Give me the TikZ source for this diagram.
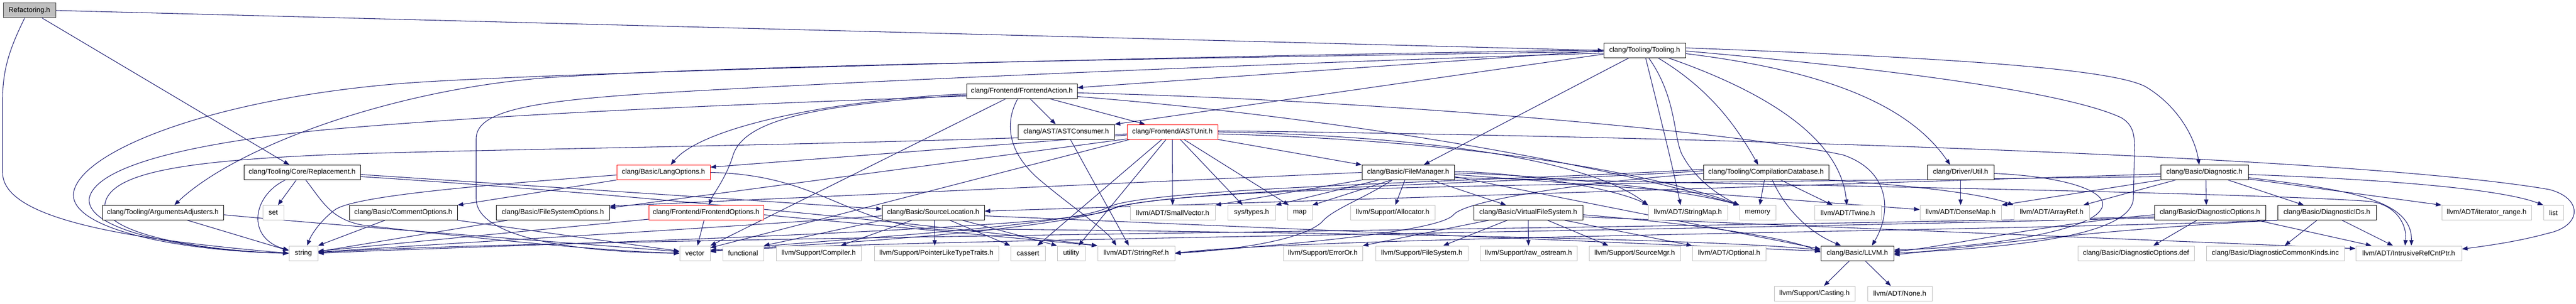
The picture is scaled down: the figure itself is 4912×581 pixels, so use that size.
\documentclass[tikz,border=0pt]{standalone}
\usepackage{fontspec}
\setmainfont{Liberation Sans}
\usetikzlibrary{arrows.meta,calc}
\definecolor{edgecol}{HTML}{191970}
\definecolor{extgray}{HTML}{BFBFBF}
\definecolor{rootfill}{HTML}{BFBFBF}
\definecolor{rootdraw}{HTML}{404040}
\definecolor{truncred}{HTML}{FF0000}
\pgfdeclarelayer{bg}
\pgfsetlayers{bg,main}
\newcommand{\gnode}[6]{\node[#2, minimum width={(#4-#3)*0.75pt}] (#1) at ({(#3+#4)/2},#5) {#6};}
\begin{document}
\begin{tikzpicture}[x=0.75pt,y=-0.75pt,
 box/.style={rectangle, inner sep=0pt, minimum height=21pt, font=\fontsize{10}{12}\selectfont, line width=0.75pt, fill=white},
 root/.style={box, fill=rootfill, draw=rootdraw},
 doc/.style={box, draw=black},
 ext/.style={box, draw=extgray},
 trunc/.style={box, draw=truncred},
 dep/.style={draw=edgecol, line width=0.8pt, -{Triangle[length=8pt,width=6pt]}}]
\useasboundingbox (0,0) rectangle (4912,581);
% rows: 20, 96.5, 174.5, 252, 329.5, 406.5, 484, 561
\gnode{ref}{root}{6}{106}{20}{Refactoring.h}
\gnode{tool}{doc}{3058}{3214}{96.5}{clang/Tooling/Tooling.h}
\gnode{fa}{doc}{1843}{2054}{174.5}{clang/Frontend/FrontendAction.h}
\gnode{astc}{doc}{1941}{2125}{252}{clang/AST/ASTConsumer.h}
\gnode{astu}{trunc}{2149}{2322}{252}{clang/Frontend/ASTUnit.h}
\gnode{repl}{doc}{465}{687}{329.5}{clang/Tooling/Core/Replacement.h}
\gnode{lang}{trunc}{1176}{1354}{329.5}{clang/Basic/LangOptions.h}
\gnode{fm}{doc}{2597}{2773}{329.5}{clang/Basic/FileManager.h}
\gnode{cdb}{doc}{3248}{3487}{329.5}{clang/Tooling/CompilationDatabase.h}
\gnode{util}{doc}{3675}{3802}{329.5}{clang/Driver/Util.h}
\gnode{diag}{doc}{4120}{4287}{329.5}{clang/Basic/Diagnostic.h}
\gnode{args}{doc}{195}{426}{406.5}{clang/Tooling/ArgumentsAdjusters.h}
\gnode{set}{ext}{501}{541}{406.5}{set}
\gnode{copt}{doc}{666}{872}{406.5}{clang/Basic/CommentOptions.h}
\gnode{fso}{doc}{946}{1162}{406.5}{clang/Basic/FileSystemOptions.h}
\gnode{fopt}{trunc}{1237}{1456}{406.5}{clang/Frontend/FrontendOptions.h}
\gnode{sloc}{doc}{1682}{1877}{406.5}{clang/Basic/SourceLocation.h}
\gnode{svec}{ext}{2155}{2317}{406.5}{llvm/ADT/SmallVector.h}
\gnode{syst}{ext}{2341}{2432}{406.5}{sys/types.h}
\gnode{map}{ext}{2455}{2502}{406.5}{map}
\gnode{alloc}{ext}{2575}{2736}{406.5}{llvm/Support/Allocator.h}
\gnode{vfs}{doc}{2810}{3018}{406.5}{clang/Basic/VirtualFileSystem.h}
\gnode{smap}{ext}{3143}{3294}{406.5}{llvm/ADT/StringMap.h}
\gnode{mem}{ext}{3317}{3386}{406.5}{memory}
\gnode{twine}{ext}{3460}{3587}{406.5}{llvm/ADT/Twine.h}
\gnode{dmap}{ext}{3661}{3816}{406.5}{llvm/ADT/DenseMap.h}
\gnode{aref}{ext}{3840}{3984}{406.5}{llvm/ADT/ArrayRef.h}
\gnode{dopt}{doc}{4108}{4320}{406.5}{clang/Basic/DiagnosticOptions.h}
\gnode{dids}{doc}{4343}{4531}{406.5}{clang/Basic/DiagnosticIDs.h}
\gnode{itr}{ext}{4656}{4827}{406.5}{llvm/ADT/iterator\_{}range.h}
\gnode{list}{ext}{4850}{4888}{406.5}{list}
\gnode{str}{ext}{551}{606}{484}{string}
\gnode{vec}{ext}{1296}{1354}{484}{vector}
\gnode{func}{ext}{1378}{1456}{484}{functional}
\gnode{comp}{ext}{1480}{1642}{484}{llvm/Support/Compiler.h}
\gnode{plt}{ext}{1667}{1904}{484}{llvm/Support/PointerLikeTypeTraits.h}
\gnode{cas}{ext}{1927}{1993}{484}{cassert}
\gnode{utl}{ext}{2016}{2069}{484}{utility}
\gnode{sref}{ext}{2093}{2240}{484}{llvm/ADT/StringRef.h}
\gnode{eor}{ext}{2447}{2598}{484}{llvm/Support/ErrorOr.h}
\gnode{fsys}{ext}{2623}{2799}{484}{llvm/Support/FileSystem.h}
\gnode{raw}{ext}{2822}{3007}{484}{llvm/Support/raw\_{}ostream.h}
\gnode{smgr}{ext}{3030}{3204}{484}{llvm/Support/SourceMgr.h}
\gnode{opt}{ext}{3227}{3367}{484}{llvm/ADT/Optional.h}
\gnode{llvm}{doc}{3472}{3611}{484}{clang/Basic/LLVM.h}
\gnode{ddef}{ext}{3962}{4184}{484}{clang/Basic/DiagnosticOptions.def}
\gnode{dck}{ext}{4207}{4470}{484}{clang/Basic/DiagnosticCommonKinds.inc}
\gnode{irc}{ext}{4492}{4694}{484}{llvm/ADT/IntrusiveRefCntPtr.h}
\gnode{cast}{ext}{3383}{3537}{561}{llvm/Support/Casting.h}
\gnode{none}{ext}{3561}{3684}{561}{llvm/ADT/None.h}
\begin{pgfonlayer}{bg}
\fill[white] (0,0) rectangle (4912,581);
% Refactoring.h
\draw[dep] (ref.east) -- (tool.west);
\draw[dep] (ref) -- (repl);
\draw[dep] ($(ref.south)+(-9,0)$) .. controls (20,90) and (5,130) .. (5,190) -- (5,330) .. controls (5,420) and (250,458) .. (str.west);
% Tooling.h
\draw[dep] (tool.west) -- ($(fa.east)+(0,-7)$);
\draw[dep] ($(tool.west)+(0,7)$) -- (astc.north east);
\draw[dep] ($(tool.west)+(0,2)$) .. controls (2200,112) and (1400,125) .. (1050,148) .. controls (750,170) and (450,280) .. ($(args.north)+(22,0)$);
\draw[dep] ($(tool.west)+(0,-1)$) .. controls (2200,108) and (1000,140) .. (760,160) .. controls (400,190) and (150,290) .. (140,370) .. controls (135,440) and (350,480) .. (str.west);
\draw[dep] ($(tool.west)+(0,5)$) .. controls (2300,125) and (1500,162) .. (1220,180) .. controls (1000,195) and (908,215) .. (908,265) -- (908,380) .. controls (908,455) and (1100,482) .. (vec.west);
\draw[dep] ($(tool.south west)+(48,0)$) -- ($(fm.north)+(30,0)$);
\draw[dep] ($(tool.south)+(2,0)$) .. controls (3165,220) and (3190,320) .. ($(smap.north)+(-14,0)$);
\draw[dep] ($(tool.south)+(8,0)$) .. controls (3200,190) and (3190,270) .. (3210,300) .. controls (3235,345) and (3280,375) .. (mem.north west);
\draw[dep] ($(tool.south)+(26,0)$) .. controls (3260,170) and (3310,240) .. ($(cdb.north)+(-15,0)$);
\draw[dep] ($(tool.south)+(46,0)$) .. controls (3380,180) and (3510,270) .. ($(twine.north)+(-2,0)$);
\draw[dep] ($(tool.east)+(0,6)$) .. controls (3480,135) and (3640,200) .. ($(util.north)+(-20,0)$);
\draw[dep] ($(tool.east)+(0,-5)$) .. controls (3700,110) and (4020,130) .. (4090,165) .. controls (4150,200) and (4185,260) .. ($(diag.north)+(-10,0)$);
\draw[dep] ($(tool.east)+(0,1)$) .. controls (3700,140) and (3960,185) .. (4045,225) .. controls (4070,240) and (4070,262) .. (4070,285) -- (4068,380) .. controls (4062,450) and (3850,472) .. (llvm.east);
% FrontendAction.h
\draw[dep] ($(fa.south)+(16,0)$) -- ($(astc.north)+(-20,0)$);
\draw[dep] ($(fa.south)+(54,0)$) -- ($(astu.north)+(-52,0)$);
\draw[dep] ($(fa.south)+(-8,0)$) .. controls (1918,230) and (1915,290) .. (1990,350) .. controls (2050,400) and (2110,440) .. ($(sref.north)+(-38,0)$);
\draw[dep] ($(fa.south)+(-31,0)$) -- (vec.north east);
\draw[dep] ($(fa.west)+(0,5)$) .. controls (1600,190) and (1340,240) .. ($(lang.north)+(14,0)$);
\draw[dep] ($(fa.west)+(0,7)$) .. controls (1550,200) and (1420,230) .. (1398,296) .. controls (1385,340) and (1360,370) .. ($(fopt.north)+(5,0)$);
\draw[dep] ($(fa.west)+(0,9)$) .. controls (1400,200) and (1000,215) .. (620,248) .. controls (350,275) and (180,320) .. (170,380) .. controls (165,445) and (380,480) .. (str.west);
\draw[dep] ($(fa.east)+(0,3)$) .. controls (2600,190) and (3300,250) .. (3514,296) .. controls (3600,325) and (3610,400) .. ($(llvm.north)+(28,0)$);
\draw[dep] ($(fa.east)+(0,10)$) .. controls (2500,220) and (3000,300) .. (mem.north west);
% ASTConsumer.h
\draw[dep] ($(astc.south)+(8,0)$) -- ($(sref.north)+(-14,0)$);
% ASTUnit.h
\draw[dep] ($(astu.south)+(-20,0)$) -- ($(cas.north)+(18,0)$);
\draw[dep] ($(astu.south)+(-12,0)$) -- ($(utl.north)+(14,0)$);
\draw[dep] (astu.south) -- (svec.north);
\draw[dep] ($(astu.south)+(15,0)$) -- ($(syst.north)+(-17,0)$);
\draw[dep] ($(astu.south)+(22,0)$) -- ($(map.north)+(-21,0)$);
\draw[dep] (astu.south east) -- (fm.north west);
\draw[dep] ($(astu.south west)+(0,-1)$) -- ($(fso.east)+(0,-9)$);
\draw[dep] ($(astu.west)+(0,6)$) -- ($(lang.east)+(0,-10)$);
\draw[dep] ($(astu.west)+(0,4)$) .. controls (1600,278) and (900,285) .. (620,296) .. controls (350,308) and (210,330) .. (200,390) .. controls (195,450) and (400,480) .. (str.west);
\draw[dep] ($(astu.south west)+(6,0)$) -- ($(vec.north east)+(0,4)$);
\draw[dep] (astu.east) .. controls (2800,262) and (3050,320) .. (smap.north west);
\draw[dep] ($(astu.east)+(0,4)$) .. controls (2800,268) and (3150,330) .. (mem.north west);
\draw[dep] ($(astu.east)+(0,-2)$) .. controls (3300,262) and (4500,300) .. (4860,362) .. controls (4925,378) and (4925,432) .. (4858,446) .. controls (4800,462) and (4740,470) .. ($(irc.east)+(0,-8)$);
% Replacement.h
\draw[dep] ($(repl.south)+(-11,0)$) -- ($(set.north)+(9,0)$);
\draw[dep] ($(repl.south)+(-32,0)$) .. controls (480,375) and (470,455) .. ($(str.west)+(0,-6)$);
\draw[dep] ($(repl.south)+(7,0)$) .. controls (615,385) and (630,418) .. (690,430) .. controls (900,455) and (1150,480) .. (vec.west);
\draw[dep] ($(repl.east)+(0,4)$) -- ($(sloc.west)+(0,-7)$);
\draw[dep] ($(repl.east)+(0,8)$) .. controls (1200,370) and (1800,432) .. (sref.north west);
% ArgumentsAdjusters.h
\draw[dep] ($(args.south)+(47,0)$) -- ($(str.west)+(0,-5)$);
\draw[dep] ($(args.east)+(0,4)$) .. controls (700,436) and (1100,465) .. ($(vec.west)+(0,-3)$);
% LangOptions.h
\draw[dep] (lang.south west) -- (copt.north east);
\draw[dep] ($(lang.west)+(0,5)$) .. controls (900,355) and (680,375) .. (640,400) .. controls (615,418) and (595,445) .. ($(str.north)+(7,0)$);
\draw[dep] (lang.east) .. controls (1600,335) and (1620,460) .. (1900,438) .. controls (2800,448) and (3300,460) .. ($(llvm.west)+(0,-6)$);
% FrontendOptions.h
\draw[dep] ($(fopt.south)+(-4,0)$) -- ($(vec.north)+(5,0)$);
\draw[dep] ($(fopt.south west)+(0,-2)$) -- ($(str.east)+(0,-4)$);
\draw[dep] ($(fopt.east)+(0,4)$) -- (sref.north west);
% CommentOptions.h, FileSystemOptions.h
\draw[dep] ($(copt.south)+(-35,0)$) -- (str.north east);
\draw[dep] (copt.south east) -- ($(vec.west)+(0,-4)$);
\draw[dep] ($(fso.south west)+(22,0)$) -- ($(str.east)+(0,-3)$);
% SourceLocation.h
\draw[dep] ($(sloc.south)+(-41,0)$) -- ($(comp.north)+(42,0)$);
\draw[dep] ($(sloc.south)+(2,0)$) -- ($(plt.north)+(-3,0)$);
\draw[dep] ($(sloc.south)+(32,0)$) -- (cas.north west);
\draw[dep] ($(sloc.south)+(56,0)$) -- (utl.north west);
\draw[dep] (sloc.south west) -- (func.north east);
\draw[dep] ($(sloc.west)+(0,6)$) .. controls (1300,440) and (900,462) .. ($(str.east)+(0,-2)$);
\draw[dep] ($(sloc.east)+(0,6)$) -- ($(llvm.west)+(0,-4)$);
% FileManager.h
\draw[dep] ($(fm.south)+(-56,0)$) -- (syst.north east);
\draw[dep] ($(fm.south)+(-32,0)$) -- (map.north east);
\draw[dep] ($(fm.south)+(-6,0)$) -- ($(alloc.north)+(5,0)$);
\draw[dep] ($(fm.south)+(43,0)$) -- ($(vfs.north)+(-42,0)$);
\draw[dep] (fm.south west) -- (svec.north east);
\draw[dep] ($(fm.south)+(-30,0)$) .. controls (2600,380) and (2540,400) .. (2520,425) .. controls (2480,460) and (2350,478) .. (sref.east);
\draw[dep] (fm.west) -- ($(fso.north east)+(0,2)$);
\draw[dep] ($(fm.east)+(0,8)$) -- ($(llvm.west)+(0,-8)$);
\draw[dep] ($(fm.east)+(0,4)$) -- ($(dmap.west)+(0,-6)$);
\draw[dep] ($(fm.east)+(0,10)$) .. controls (3300,352) and (4300,368) .. (4520,385) .. controls (4570,392) and (4590,430) .. ($(irc.north)+(-7,0)$);
\draw[dep] ($(fm.east)+(0,-2)$) .. controls (2900,330) and (3080,360) .. (smap.north west);
\draw[dep] ($(fm.east)+(0,1)$) .. controls (2950,335) and (3200,360) .. (mem.north west);
% VirtualFileSystem.h
\draw[dep] ($(vfs.south west)+(29,0)$) -- (eor.north east);
\draw[dep] ($(vfs.south)+(-40,0)$) -- ($(fsys.north)+(41,0)$);
\draw[dep] (vfs.south) -- (raw.north);
\draw[dep] ($(vfs.south)+(37,0)$) -- ($(smgr.north)+(-50,0)$);
\draw[dep] ($(vfs.south east)+(-35,0)$) -- (opt.north west);
\draw[dep] ($(vfs.east)+(0,4)$) .. controls (3200,425) and (3400,450) .. ($(llvm.west)+(0,-2)$);
\draw[dep] ($(vfs.east)+(0,8)$) -- ($(irc.west)+(0,-9)$);
% DiagnosticOptions.h
\draw[dep] ($(dopt.south)+(-25,0)$) -- ($(ddef.north)+(33,0)$);
\draw[dep] ($(dopt.south)+(90,0)$) -- ($(irc.north)+(-71,0)$);
\draw[dep] ($(dopt.west)+(0,4)$) .. controls (3900,428) and (3720,470) .. ($(llvm.east)+(0,-3)$);
\draw[dep] ($(dopt.west)+(0,8)$) .. controls (3000,440) and (1000,455) .. ($(str.east)+(0,-1)$);
\draw[dep] ($(dopt.west)+(0,10)$) .. controls (3000,445) and (1700,458) .. ($(vec.east)+(0,-4)$);
% DiagnosticIDs.h
\draw[dep] ($(dids.south)+(-19,0)$) -- ($(dck.north)+(18,0)$);
\draw[dep] ($(dids.south)+(29,0)$) -- ($(irc.north)+(-30,0)$);
\draw[dep] (dids.south west) .. controls (4000,438) and (3760,472) .. ($(llvm.east)+(0,3)$);
\draw[dep] (dids.south west) .. controls (3800,442) and (2500,452) .. (sref.east);
% Diagnostic.h
\draw[dep] ($(diag.south)+(3,0)$) -- ($(dopt.north)+(-7,0)$);
\draw[dep] ($(diag.south)+(45,0)$) -- ($(dids.north)+(-44,0)$);
\draw[dep] ($(diag.south)+(-55,0)$) -- ($(aref.north east)+(-12,0)$);
\draw[dep] (diag.south west) -- (dmap.north east);
\draw[dep] ($(diag.south east)+(0,-2)$) -- (itr.north west);
\draw[dep] ($(diag.east)+(0,4)$) .. controls (4600,345) and (4780,365) .. (list.north west);
\draw[dep] ($(diag.east)+(0,10)$) .. controls (4470,362) and (4600,380) .. ($(irc.north)+(5,0)$);
\draw[dep] ($(diag.west)+(0,3)$) -- ($(sloc.east)+(0,-3)$);
\draw[dep] ($(diag.west)+(0,8)$) .. controls (3000,352) and (2300,355) .. (2130,395) .. controls (2060,430) and (1700,462) .. ($(vec.east)+(0,-6)$);
% CompilationDatabase.h
\draw[dep] ($(cdb.south)+(-3,0)$) -- ($(mem.north)+(4,0)$);
\draw[dep] ($(cdb.south)+(28,0)$) -- ($(twine.north)+(-29,0)$);
\draw[dep] ($(cdb.south)+(12,0)$) .. controls (3400,390) and (3440,440) .. ($(llvm.north)+(-31,0)$);
\draw[dep] (cdb.south east) .. controls (3650,355) and (3780,370) .. (aref.north west);
\draw[dep] ($(cdb.west)+(0,2)$) .. controls (3050,345) and (2800,380) .. (2772,410) .. controls (2745,445) and (2420,470) .. (sref.east);
\draw[dep] ($(cdb.west)+(0,-3)$) .. controls (2900,350) and (2200,362) .. (2120,400) .. controls (2050,440) and (900,470) .. (str.east);
\draw[dep] ($(cdb.west)+(0,-6)$) .. controls (2900,345) and (2200,357) .. (2115,395) .. controls (2050,435) and (1500,462) .. ($(vec.east)+(0,-3)$);
% Driver/Util.h
\draw[dep] (util.south) -- (dmap.north);
\draw[dep] ($(util.east)+(0,2)$) .. controls (3950,338) and (4030,370) .. (4005,402) .. controls (3980,440) and (3800,472) .. ($(llvm.east)+(0,-6)$);
% LLVM.h
\draw[dep] ($(llvm.south)+(-15,0)$) -- ($(cast.north)+(18,0)$);
\draw[dep] ($(llvm.south)+(15,0)$) -- ($(none.north)+(-17,0)$);
\end{pgfonlayer}
\end{tikzpicture}
\end{document}
